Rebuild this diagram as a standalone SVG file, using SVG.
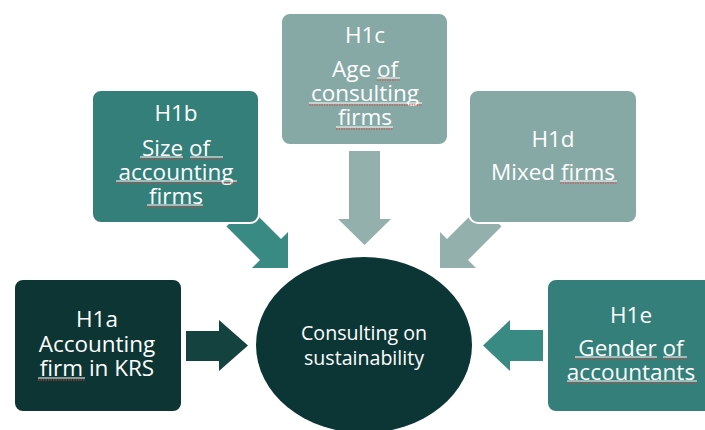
<svg xmlns="http://www.w3.org/2000/svg" width="705" height="430" viewBox="0 0 705 430">
<style>
.box{stroke:#ffffff;stroke-width:2}
.t{font-family:"Open Sans","Liberation Sans",sans-serif;font-size:22.5px;fill:#ffffff;text-anchor:middle}
.c{font-size:19.6px}
.ul{stroke:#ffffff;stroke-width:1}
.sp{stroke:#d9403a;stroke-width:1;stroke-dasharray:1.5 1;fill:none}
</style>
<rect width="705" height="430" fill="#ffffff"/>
<g id="connectors">
<polygon points="186,331 219,331 219,320 248,345.5 219,371 219,361 186,361" fill="#14433f"/>
<polygon points="226.5,226.5 247.5,205.5 281,239 288,232 288,268 252,268 260,260" fill="#3a8a84"/>
<polygon points="349,151 380,151 380,219 391,219 364.5,245 338,219 349,219" fill="#93b0ad"/>
<polygon points="501.5,226.5 480.5,205.5 447,239 440,232 440,268 476,268 468,260" fill="#93b0ad"/>
<polygon points="543,330 510,330 510,320 483,345.5 510,371 510,361 543,361" fill="#3a8a84"/>
</g>
<g id="H1a">
<rect class="box" x="14" y="279" width="168" height="133" rx="9" fill="#0c3533"/>
<text class="t" x="97" y="327">H1a</text>
<text class="t" x="97" y="352">Accounting</text>
<text class="t" x="97" y="376">firm in KRS</text>
<line class="ul" x1="38" y1="378" x2="85" y2="378"/>
<line class="sp" x1="38" y1="380" x2="85" y2="380"/>
</g>
<g id="H1b">
<rect class="box" x="92" y="90" width="167" height="133" rx="9" fill="#347f79"/>
<text class="t" x="176" y="121">H1b</text>
<text class="t" x="176" y="156">Size of</text>
<text class="t" x="176" y="180">accounting</text>
<text class="t" x="176" y="204">firms</text>
<path class="ul" d="M140 157H183M190 157H223M116 181H237M147 205H203"/>
<path class="sp" d="M140 159H183M190 159H223M116 183H237M147 207H203"/>
</g>
<g id="H1c">
<rect class="box" x="281" y="13" width="167" height="132" rx="9" fill="#86a9a6"/>
<text class="t" x="365" y="43">H1c</text>
<text class="t" x="365" y="77">Age of</text>
<text class="t" x="365" y="101">consulting</text>
<text class="t" x="365" y="125">firms</text>
<path class="ul" d="M377 78H400M309 103H422M336 127H393"/>
<path class="sp" d="M377 80H400M309 105H422M336 129H393"/>
</g>
<g id="H1d">
<rect class="box" x="469" y="90" width="168" height="133" rx="9" fill="#86a9a6"/>
<text class="t" x="553" y="147">H1d</text>
<text class="t" x="553" y="180">Mixed firms</text>
<path class="ul" d="M560 181H617"/>
<path class="sp" d="M560 183H617"/>
</g>
<g id="H1e">
<rect class="box" x="547" y="279" width="168" height="133" rx="9" fill="#347f79"/>
<text class="t" x="631" y="323">H1e</text>
<text class="t" x="631" y="356">Gender of</text>
<text class="t" x="631" y="380">accountants</text>
<path class="ul" d="M575 357H657M663 357H687M567 381H697"/>
<path class="sp" d="M575 359H657M663 359H687M567 383H697"/>
</g>
<g id="center">
<ellipse cx="364" cy="345" rx="108" ry="88" fill="#0b3635"/>
<text class="t c" x="364" y="340">Consulting on</text>
<text class="t c" x="364" y="365">sustainability</text>
</g>
</svg>
